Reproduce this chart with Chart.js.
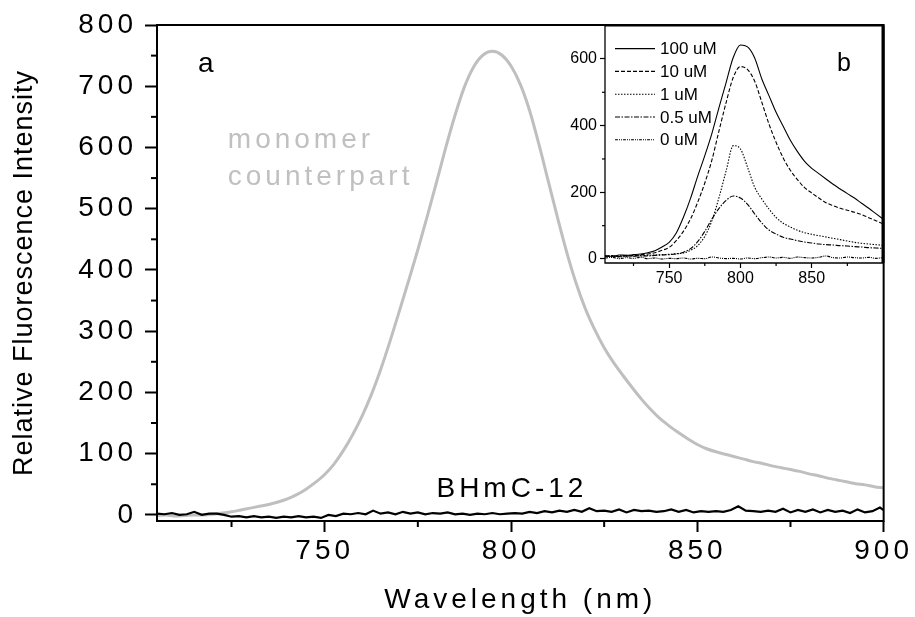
<!DOCTYPE html>
<html>
<head>
<meta charset="utf-8">
<script src="https://cdn.jsdelivr.net/npm/chart.js@4.4.1/dist/chart.umd.min.js"></script>
<style>
  html, body { margin: 0; padding: 0; background: #fff; }
  #wrap { position: relative; width: 915px; height: 617px; }
  #mainChart { position: absolute; left: 0; top: 0; }
  #insetChart { position: absolute; left: 545px; top: 13px; }
</style>
</head>
<body>
<div id="wrap">
  <canvas id="mainChart" width="915" height="617"></canvas>
  <canvas id="insetChart" width="345" height="287"></canvas>
</div>
<script>
const FONT = "'Liberation Sans', Arial, sans-serif";

// main panel (a)
const monomerWl = [705, 707.5, 710, 712.5, 715, 717.5, 720, 722.5, 725, 727.5,
  730, 732.5, 735, 737.5, 740, 742.5, 745, 747.5, 750, 752.5,
  755, 757.5, 760, 762.5, 765, 767.5, 770, 772.5, 775, 777.5,
  780, 782.5, 785, 787.5, 790, 792.5, 795, 797.5, 800, 802.5,
  805, 807.5, 810, 812.5, 815, 817.5, 820, 822.5, 825, 827.5,
  830, 832.5, 835, 837.5, 840, 842.5, 845, 847.5, 850, 852.5,
  855, 857.5, 860, 862.5, 865, 867.5, 870, 872.5, 875, 877.5,
  880, 882.5, 885, 887.5, 890, 892.5, 895, 897.5, 900];
const monomerVal = [-1, 0, -2, -1, 0, 0, 1, 3, 5, 8,
  11, 14, 17, 21, 26, 33, 42, 53, 66, 83,
  105, 131, 161, 196, 237, 283, 332, 382, 433, 487,
  543, 600, 653, 699, 732, 751, 757, 751, 733, 703,
  660, 605, 545, 485, 428, 378, 336, 302, 273, 249,
  228, 208, 189, 172, 157, 145, 134, 124, 115, 108,
  103, 99, 95, 91, 87, 84, 80, 77, 74, 71,
  67, 64, 60, 57, 54, 51, 49, 46, 44];

const bhmcWl = [705, 707, 709, 711, 713, 715, 717, 719, 721, 723,
  725, 727, 729, 731, 733, 735, 737, 739, 741, 743,
  745, 747, 749, 751, 753, 755, 757, 759, 761, 763,
  765, 767, 769, 771, 773, 775, 777, 779, 781, 783,
  785, 787, 789, 791, 793, 795, 797, 799, 801, 803,
  805, 807, 809, 811, 813, 815, 817, 819, 821, 823,
  825, 827, 829, 831, 833, 835, 837, 839, 841, 843,
  845, 847, 849, 851, 853, 855, 857, 859, 861, 863,
  865, 867, 869, 871, 873, 875, 877, 879, 881, 883,
  885, 887, 889, 891, 893, 895, 897, 899, 900];
const bhmcVal = [2, 1, 3, 0, 1, 5, 0, 2, 2, 0,
  -3, -2, -4, -2, -4, -3, -5, -3, -4, -2,
  -4, -3, -5, 0, -2, 2, 1, 3, 1, 7,
  2, 4, 1, 5, 2, 4, 1, 3, 2, 4,
  1, 2, 0, 2, 1, 3, 1, 2, 3, 2,
  5, 3, 6, 4, 7, 5, 8, 5, 11, 6,
  7, 5, 9, 4, 8, 6, 7, 5, 6, 9,
  5, 8, 4, 6, 5, 6, 5, 8, 14, 7,
  6, 5, 7, 5, 10, 4, 8, 5, 9, 4,
  8, 5, 7, 3, 9, 4, 6, 12, 8];

const mainXTicks = [725, 750, 775, 800, 825, 850, 875, 900];
const mainXLabels = [750, 800, 850, 900];
const mainYTicks = [0, 50, 100, 150, 200, 250, 300, 350, 400, 450, 500, 550, 600, 650, 700, 750, 800];
const mainYLabels = [0, 100, 200, 300, 400, 500, 600, 700, 800];

// inset panel (b)
const insetWl = [705, 710, 715, 720, 725, 730, 735, 740, 745, 750,
  755, 760, 765, 770, 775, 780, 785, 790, 795, 800,
  805, 810, 815, 820, 825, 830, 835, 840, 845, 850,
  855, 860, 865, 870, 875, 880, 885, 890, 895, 900];
const conc100 = [10, 8, 12, 11, 13, 15, 19, 25, 36, 50,
  78, 125, 182, 248, 310, 377, 455, 530, 605, 642,
  636, 603, 540, 490, 440, 398, 356, 322, 293, 272,
  256, 240, 224, 210, 196, 183, 167, 152, 136, 120];
const conc10 = [8, 10, 7, 11, 10, 13, 15, 19, 26, 35,
  55, 83, 120, 170, 228, 297, 385, 470, 545, 577,
  568, 533, 470, 405, 350, 303, 266, 238, 214, 198,
  183, 169, 160, 152, 146, 140, 133, 124, 115, 105];
const conc1 = [9, 7, 10, 8, 10, 9, 11, 12, 13, 14,
  16, 18, 26, 40, 68, 115, 185, 265, 340, 330,
  275, 215, 180, 150, 125, 107, 96, 86, 79, 74,
  70, 66, 62, 58, 54, 50, 47, 45, 43, 41];
const conc05 = [7, 10, 6, 9, 8, 10, 9, 11, 12, 13,
  15, 20, 31, 52, 83, 120, 152, 176, 189, 183,
  164, 135, 108, 87, 75, 65, 60, 55, 51, 48,
  45, 43, 42, 40, 39, 37, 36, 34, 33, 32];
const conc0 = [3, 5, 1, 4, 2, 5, 1, 3, 0, 2,
  1, 3, 0, 2, 1, 6, 3, 1, 2, 0,
  3, 1, 4, 6, 3, 5, 2, 6, 4, 3,
  5, 9, 4, 3, 6, 4, 3, 5, 2, 4];
const insetNames = ["100 uM", "10 uM", "1 uM", "0.5 uM", "0 uM"];

const insetXTicks = [725, 750, 775, 800, 825, 850, 875];
const insetXLabels = [750, 800, 850];
const insetYTicks = [0, 100, 200, 300, 400, 500, 600];
const insetYLabels = [0, 200, 400, 600];

function toPoints(xs, ys) {
    return xs.map((x, i) => ({ x: x, y: ys[i] }));
}

function isIn(list, v) {
    return list.indexOf(v) !== -1;
}

// short ticks for the values that carry no label
function minorTicks(xMajor, yMajor, len, width) {
    return {
        id: "minorTicks",
        afterDraw(chart) {
            const ctx = chart.ctx;
            const xs = chart.scales.x;
            const ys = chart.scales.y;
            ctx.save();
            ctx.letterSpacing = "0px";
            ctx.strokeStyle = "#000";
            ctx.lineWidth = width;
            ctx.setLineDash([]);
            xs.ticks.forEach((t) => {
                if (isIn(xMajor, t.value)) return;
                const px = xs.getPixelForValue(t.value);
                ctx.beginPath();
                ctx.moveTo(px, xs.top);
                ctx.lineTo(px, xs.top + len);
                ctx.stroke();
            });
            ys.ticks.forEach((t) => {
                if (isIn(yMajor, t.value)) return;
                const py = ys.getPixelForValue(t.value);
                ctx.beginPath();
                ctx.moveTo(ys.right, py);
                ctx.lineTo(ys.right - len, py);
                ctx.stroke();
            });
            ctx.restore();
        }
    };
}

function createMain() {
    // tick labels and x title are spaced wide, the y title is not
    const spacing = {
        id: "spacing",
        beforeLayout(chart) { chart.ctx.letterSpacing = "4px"; },
        beforeDraw(chart) { chart.ctx.letterSpacing = "1px"; },
        afterDatasetsDraw(chart) { chart.ctx.letterSpacing = "4px"; }
    };

    const frame = {
        id: "frame",
        afterDraw(chart) {
            const ctx = chart.ctx;
            const a = chart.chartArea;
            ctx.save();
            ctx.strokeStyle = "#000";
            ctx.lineWidth = 2;
            ctx.setLineDash([]);
            ctx.strokeRect(a.left, a.top, a.right - a.left, a.bottom - a.top);
            ctx.restore();
        }
    };

    const notes = {
        id: "notes",
        afterDraw(chart) {
            const ctx = chart.ctx;
            const xs = chart.scales.x;
            const ys = chart.scales.y;
            ctx.save();
            ctx.letterSpacing = "4px";
            ctx.font = "28px " + FONT;
            ctx.textAlign = "left";
            ctx.textBaseline = "alphabetic";
            ctx.fillStyle = "#000";
            ctx.fillText("a", xs.getPixelForValue(716), ys.getPixelForValue(723));
            ctx.fillText("BHmC-12", xs.getPixelForValue(780), ys.getPixelForValue(30));
            ctx.fillStyle = "#c0c0c0";
            ctx.fillText("monomer", xs.getPixelForValue(724), ys.getPixelForValue(599));
            ctx.fillText("counterpart", xs.getPixelForValue(724), ys.getPixelForValue(539));
            ctx.restore();
        }
    };

    const config = {
        type: "line",
        data: {
            datasets: [
                {
                    label: "BHmC-12",
                    data: toPoints(bhmcWl, bhmcVal),
                    borderColor: "#000",
                    borderWidth: 2.2,
                    pointRadius: 0,
                    tension: 0
                },
                {
                    label: "monomer counterpart",
                    data: toPoints(monomerWl, monomerVal),
                    borderColor: "#bfbfbf",
                    borderWidth: 3,
                    pointRadius: 0,
                    cubicInterpolationMode: "monotone"
                }
            ]
        },
        options: {
            responsive: false,
            animation: false,
            events: [],
            layout: { padding: { left: 0, top: 25, right: 31, bottom: 0 } },
            plugins: { legend: { display: false }, tooltip: { enabled: false } },
            scales: {
                x: {
                    type: "linear",
                    min: 705,
                    max: 900,
                    afterBuildTicks: (s) => { s.ticks = mainXTicks.map((v) => ({ value: v })); },
                    afterFit: (s) => { s.height = 96; },
                    border: { display: false },
                    grid: {
                        z: 1,
                        drawOnChartArea: false,
                        tickLength: 11,
                        tickWidth: 2,
                        tickColor: (c) => (c.tick && isIn(mainXLabels, c.tick.value) ? "#000" : "rgba(0,0,0,0)")
                    },
                    ticks: {
                        z: 1,
                        padding: 2,
                        color: "#000",
                        autoSkip: false,
                        maxRotation: 0,
                        font: { family: FONT, size: 28 },
                        callback: (v) => (isIn(mainXLabels, v) ? String(v) : "")
                    },
                    title: {
                        display: true,
                        text: "Wavelength (nm)",
                        color: "#000",
                        font: { family: FONT, size: 28 },
                        padding: { top: 0, bottom: 0 }
                    }
                },
                y: {
                    type: "linear",
                    min: -10,
                    max: 800,
                    afterBuildTicks: (s) => { s.ticks = mainYTicks.map((v) => ({ value: v })); },
                    afterFit: (s) => { s.width = 157; },
                    border: { display: false },
                    grid: {
                        z: -1,
                        drawOnChartArea: false,
                        tickLength: 12,
                        tickWidth: 2,
                        tickColor: (c) => (c.tick && isIn(mainYLabels, c.tick.value) ? "#000" : "rgba(0,0,0,0)")
                    },
                    ticks: {
                        z: 1,
                        padding: 8,
                        color: "#000",
                        autoSkip: false,
                        font: { family: FONT, size: 28 },
                        callback: (v) => (isIn(mainYLabels, v) ? String(v) : "")
                    },
                    title: {
                        display: true,
                        text: "Relative Fluorescence Intensity",
                        color: "#000",
                        font: { family: FONT, size: 27 },
                        padding: { top: 8, bottom: 0 }
                    }
                }
            }
        },
        plugins: [spacing, frame, notes, minorTicks(mainXLabels, mainYLabels, 6, 2)]
    };

    new Chart(document.getElementById("mainChart"), config);
}

function createInset() {
    const frame = {
        id: "insetFrame",
        beforeDraw(chart) {
            const ctx = chart.ctx;
            const a = chart.chartArea;
            ctx.save();
            ctx.fillStyle = "#fff";
            ctx.fillRect(a.left, a.top, a.right - a.left, a.bottom - a.top);
            ctx.restore();
        },
        afterDraw(chart) {
            const ctx = chart.ctx;
            const a = chart.chartArea;
            ctx.save();
            ctx.strokeStyle = "#000";
            ctx.setLineDash([]);
            ctx.lineWidth = 1.3;
            ctx.beginPath();
            ctx.moveTo(a.left, a.top);
            ctx.lineTo(a.left, a.bottom);
            ctx.lineTo(a.right, a.bottom);
            ctx.stroke();
            ctx.lineWidth = 2;
            ctx.beginPath();
            ctx.moveTo(a.left, a.top);
            ctx.lineTo(a.right, a.top);
            ctx.stroke();
            ctx.lineWidth = 3;
            ctx.beginPath();
            ctx.moveTo(a.right, a.top);
            ctx.lineTo(a.right, a.bottom);
            ctx.stroke();
            ctx.restore();
        }
    };

    const legendBox = {
        id: "insetLegend",
        afterDraw(chart) {
            const ctx = chart.ctx;
            const a = chart.chartArea;
            ctx.save();
            ctx.font = "17px " + FONT;
            ctx.textAlign = "left";
            ctx.textBaseline = "middle";
            ctx.fillStyle = "#000";
            chart.data.datasets.forEach((ds, i) => {
                const y = a.top + 23 + i * 22.8;
                ctx.strokeStyle = ds.borderColor;
                ctx.lineWidth = ds.borderWidth;
                ctx.setLineDash(ds.borderDash || []);
                ctx.beginPath();
                ctx.moveTo(a.left + 10, y);
                ctx.lineTo(a.left + 50, y);
                ctx.stroke();
                ctx.fillText(ds.label, a.left + 55, y + 1);
            });
            // panel letter
            ctx.font = "25px " + FONT;
            ctx.textBaseline = "alphabetic";
            ctx.fillText("b", chart.scales.x.getPixelForValue(867.7), chart.scales.y.getPixelForValue(565));
            ctx.restore();
        }
    };

    const series = [conc100, conc10, conc1, conc05, conc0];
    const dashes = [[], [4, 2], [1.5, 1.5], [5, 1.5, 1.5, 1.5], [3, 1, 1, 1, 1, 1]];

    const config = {
        type: "line",
        data: {
            datasets: series.map((vals, i) => ({
                label: insetNames[i],
                data: toPoints(insetWl, vals),
                borderColor: "#000",
                borderWidth: 1.1,
                borderDash: dashes[i],
                pointRadius: 0,
                cubicInterpolationMode: "monotone"
            }))
        },
        options: {
            responsive: false,
            animation: false,
            events: [],
            layout: { padding: { left: 0, top: 12, right: 7, bottom: 0 } },
            plugins: { legend: { display: false }, tooltip: { enabled: false } },
            scales: {
                x: {
                    type: "linear",
                    min: 705,
                    max: 900,
                    afterBuildTicks: (s) => { s.ticks = insetXTicks.map((v) => ({ value: v })); },
                    afterFit: (s) => { s.height = 37; },
                    border: { display: false },
                    grid: {
                        drawOnChartArea: false,
                        tickLength: 5,
                        tickWidth: 1.2,
                        tickColor: (c) => (c.tick && isIn(insetXLabels, c.tick.value) ? "#000" : "rgba(0,0,0,0)")
                    },
                    ticks: {
                        padding: 1,
                        color: "#000",
                        autoSkip: false,
                        maxRotation: 0,
                        font: { family: FONT, size: 16 },
                        callback: (v) => (isIn(insetXLabels, v) ? String(v) : "")
                    }
                },
                y: {
                    type: "linear",
                    min: -12,
                    max: 700,
                    afterBuildTicks: (s) => { s.ticks = insetYTicks.map((v) => ({ value: v })); },
                    afterFit: (s) => { s.width = 60; },
                    border: { display: false },
                    grid: {
                        drawOnChartArea: false,
                        tickLength: 5,
                        tickWidth: 1.2,
                        tickColor: (c) => (c.tick && isIn(insetYLabels, c.tick.value) ? "#000" : "rgba(0,0,0,0)")
                    },
                    ticks: {
                        padding: 3,
                        color: "#000",
                        autoSkip: false,
                        font: { family: FONT, size: 16 },
                        callback: (v) => (isIn(insetYLabels, v) ? String(v) : "")
                    }
                }
            }
        },
        plugins: [frame, legendBox, minorTicks(insetXLabels, insetYLabels, 3, 1.2)]
    };

    new Chart(document.getElementById("insetChart"), config);
}

createMain();
createInset();
</script>
</body>
</html>
